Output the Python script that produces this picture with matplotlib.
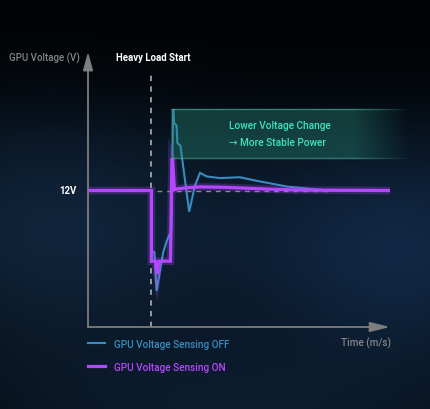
import numpy as np
import matplotlib
matplotlib.use("Agg")
import matplotlib.pyplot as plt
from matplotlib.collections import LineCollection

# ---------------- data ----------------
time_on = [0.0, 21.0, 21.0, 22.3, 22.9, 23.5, 27.3, 27.8, 28.0, 28.6, 29.4, 33.0, 37.1, 45.0, 57.9, 70.0, 100.0]
volt_on = [12.0, 12.0, 10.24, 10.24, 9.92, 10.24, 10.24, 12.80, 12.76, 12.02, 12.04, 12.07, 12.09, 12.08, 12.04, 12.01, 12.0]

time_off = [0.0, 21.0, 21.1, 22.0, 22.7, 24.9, 26.1, 27.6, 28.2, 28.5, 29.3, 29.6, 30.6,
            33.5, 35.4, 37.1, 39.3, 43.7, 50.3, 55.9, 65.8, 73.5, 80.1, 100.0]
volt_off = [12.0, 12.0, 10.50, 10.46, 9.50, 10.46, 10.75, 11.0, 14.03, 13.68, 13.62, 13.18, 13.12,
            11.47, 12.12, 12.44, 12.35, 12.31, 12.33, 12.24, 12.10, 12.04, 12.0, 12.0]

nominal_v = 12.0
load_start_t = 21.0
box_t = [27.5, 106.6]
box_v = [12.81, 14.03]

label_off = "GPU Voltage Sensing OFF"
label_on = "GPU Voltage Sensing ON"

# ---------------- style ----------------
W, H = 431, 410
fig = plt.figure(figsize=(W / 100, H / 100), dpi=100)

FONT = ["Roboto", "DejaVu Sans"]

# background
bg = fig.add_axes([0, 0, 1, 1], zorder=-10)
yy, xx = np.mgrid[0:H, 0:W]
img = np.zeros((H, W, 3))
img[:] = np.array([3, 6, 9]) / 255.0
def blob(cx, cy, rx, ry, col):
    g = np.exp(-(((xx - cx) / rx) ** 2 + ((yy - cy) / ry) ** 2))
    return g[..., None] * (np.array(col) / 255.0)
img += blob(40, 230, 170, 130, (12, 28, 46))
img += blob(420, 250, 150, 120, (12, 30, 52))
img += blob(230, 420, 260, 90, (8, 20, 34))
img += blob(250, 230, 150, 110, (4, 10, 18))
top = np.clip((yy - 20) / 120.0, 0, 1)[..., None]
img = img * (0.35 + 0.65 * top)
img = np.clip(img, 0, 1)
bg.imshow(img, aspect="auto", extent=[0, 1, 0, 1], origin="upper")
bg.axis("off")

# main axes
left, right, bottom_px, top_px = 88, 390, 328, 55
ax = fig.add_axes([left / W, 1 - bottom_px / H, (right - left) / W, (bottom_px - top_px) / H])
ax.patch.set_alpha(0)
ax.set_xlim(0, 100)
ax.set_ylim(8.6, 15.4)
for s in ax.spines.values():
    s.set_visible(False)
ax.set_xticks([])
ax.set_yticks([])

axis_col = "#7d7d7d"
ax.annotate("", xy=(0, 1.008), xytext=(0, 0), xycoords="axes fraction",
            arrowprops=dict(arrowstyle="-|>,head_length=1.1,head_width=0.3", color=axis_col,
                            lw=1.3, mutation_scale=10, shrinkA=0, shrinkB=0), annotation_clip=False)
ax.annotate("", xy=(1.0, 0), xytext=(0, 0), xycoords="axes fraction",
            arrowprops=dict(arrowstyle="-|>,head_length=1.2,head_width=0.3", color=axis_col,
                            lw=1.3, mutation_scale=10, shrinkA=0, shrinkB=0), annotation_clip=False)

# reference dashed lines
ax.plot([load_start_t, load_start_t], [8.6, 14.98], color="#bdbdbd", lw=1.1,
        dashes=(3.5, 3.5), zorder=2, clip_on=False)
ax.plot([22.8, 80], [nominal_v, nominal_v], color="#8a8a8a", lw=1.0, dashes=(3.5, 3.5), zorder=2)

# lines
blue = "#3a8cc0"
purple = "#b548ff"
l_off, = ax.plot(time_off, volt_off, color=blue, lw=1.5, zorder=3, label=label_off,
                 solid_joinstyle="miter")
ax.plot(time_on, volt_on, color=purple, lw=5.5, alpha=0.25, zorder=4, solid_joinstyle="miter")
l_on, = ax.plot(time_on, volt_on, color=purple, lw=2.3, zorder=5, label=label_on,
                solid_joinstyle="miter")

# highlight box with right fade
nx = 200
tx = np.linspace(box_t[0], box_t[1], nx)
fade = np.clip((box_t[1] - tx) / (box_t[1] - 88.0), 0, 1)
rgba = np.zeros((1, nx, 4))
rgba[0, :, 0] = 40 / 255
rgba[0, :, 1] = 140 / 255
rgba[0, :, 2] = 118 / 255
rgba[0, :, 3] = 0.38 * fade
ax.imshow(rgba, extent=[box_t[0], box_t[1], box_v[0], box_v[1]], aspect="auto",
          zorder=6, interpolation="bilinear", clip_on=False)
for v in box_v:
    segs = [[(tx[i], v), (tx[i + 1], v)] for i in range(nx - 1)]
    cols = [(70 / 255, 180 / 255, 150 / 255, 0.7 * fade[i]) for i in range(nx - 1)]
    lc = LineCollection(segs, colors=cols, linewidths=1.0, zorder=7, clip_on=False)
    ax.add_collection(lc)
ax.set_xlim(0, 100)
ax.set_ylim(8.6, 15.4)

# texts
fs = 7.2
fig.text(44 / W, 1 - 58 / H, "GPU Voltage (V)", color="#858585", fontsize=7.0, family=FONT,
         fontweight="medium", ha="center", va="center")
fig.text(153 / W, 1 - 58 / H, "Heavy Load Start", color="white", fontsize=6.9, family=FONT,
         fontweight="bold", ha="center", va="center")
ax.text(-0.037, nominal_v, "12V", color="white", fontsize=6.9, family=FONT, fontweight="bold",
        ha="right", va="center", transform=ax.get_yaxis_transform())
fig.text(391 / W, 1 - 343 / H, "Time (m/s)", color="#858585", fontsize=fs, family=FONT,
         fontweight="medium", ha="right", va="center")
green = "#3fe3bf"
fig.text(229 / W, 1 - 126 / H, "Lower Voltage Change", color=green, fontsize=7.3,
         family=FONT, fontweight="medium", ha="left", va="center", zorder=10)
fig.text(229 / W, 1 - 143 / H, "\u2192 More Stable Power", color=green, fontsize=7.3,
         family=FONT, fontweight="medium", ha="left", va="center", zorder=10)

leg = ax.legend(handles=[l_off, l_on], loc="upper left", bbox_to_anchor=(0, -0.043),
                frameon=False, prop={"family": FONT, "size": fs, "weight": "medium"},
                labelcolor="linecolor", handlelength=1.75, handletextpad=0.85,
                labelspacing=1.3, borderpad=0, borderaxespad=0)

fig.savefig("out.png", dpi=100)
